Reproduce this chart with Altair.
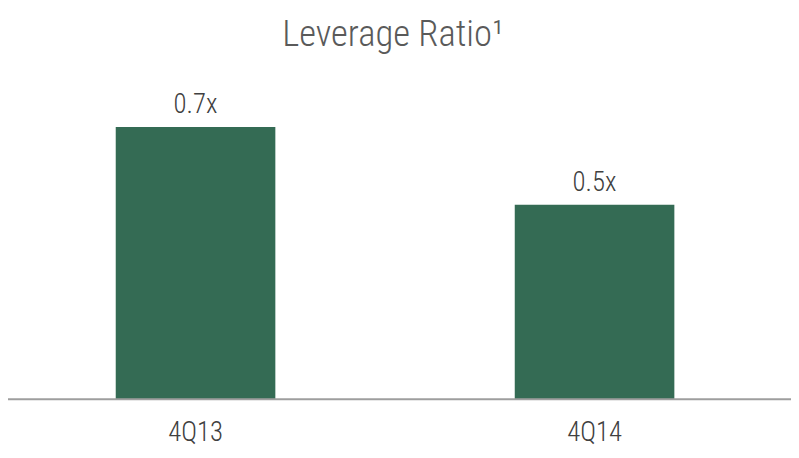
import altair as alt
import pandas as pd

# ---- data ----
periods = ["4Q13", "4Q14"]
leverage = [0.7, 0.5]
value_labels = ["0.7x", "0.5x"]
title_text = "Leverage Ratio\u00b9"

df = pd.DataFrame({"period": periods, "value": leverage, "label": value_labels})

FONT = "'Roboto Condensed', 'Liberation Sans Narrow', 'DejaVu Sans Condensed', sans-serif"
BAR = "#346B54"

W, H = 782, 314.4
PAD_TOP = 78.6

x = alt.X(
    "period:N",
    sort=periods,
    scale=alt.Scale(paddingInner=0.6, paddingOuter=0.27),
    axis=alt.Axis(
        title=None,
        domain=False,
        ticks=False,
        tickSize=0,
        grid=False,
        labelAngle=0,
        labelFont=FONT,
        labelFontSize=27,
        labelFontWeight=300,
        labelColor="#404040",
        labelPadding=21,
    ),
)
y = alt.Y("value:Q", scale=alt.Scale(domain=[0, 0.8]), axis=None)

base = alt.Chart(df)

bars = base.mark_bar(color=BAR).encode(x=x, y=y)

labels = base.mark_text(
    font=FONT, fontSize=27, fontWeight=300, color="#404040", baseline="alphabetic", dy=-14
).encode(x=x, y=y, text="label:N")

baseline = alt.Chart(pd.DataFrame({"v": [0]})).mark_rule(
    color="#9E9E9E", strokeWidth=2
).encode(y=alt.Y("v:Q", scale=alt.Scale(domain=[0, 0.8])), x=alt.value(-8), x2=alt.value(791))

title = alt.Chart(pd.DataFrame({"t": [title_text]})).mark_text(
    font=FONT, fontSize=37, fontWeight=300, color="#5A5A5A", baseline="alphabetic", align="center"
).encode(text="t:N", x=alt.value(389), y=alt.value(44 - 8 - PAD_TOP))

chart = (
    alt.layer(bars, labels, baseline, title)
    .properties(
        width=W,
        height=H,
        autosize=alt.AutoSizeParams(type="none"),
        padding={"left": 0, "top": PAD_TOP, "right": 9, "bottom": 49},
        background="white",
    )
    .configure_view(strokeWidth=0, stroke=None)
)

chart.save("out.html", embed_options={"renderer": "svg", "actions": False})
